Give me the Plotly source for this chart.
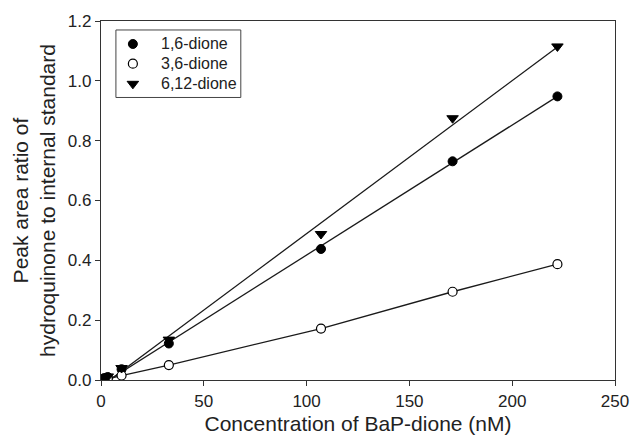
import plotly.graph_objects as go

# Data
conc = [0.5, 1.1, 2.2, 3.3, 10, 33, 107, 171, 222]
dione_16 = [0.002, 0.004, 0.007, 0.010, 0.036, 0.122, 0.438, 0.731, 0.948]
dione_36 = [0.001, 0.002, 0.003, 0.004, 0.015, 0.050, 0.172, 0.295, 0.387]
dione_612 = [0.002, 0.005, 0.008, 0.012, 0.040, 0.135, 0.488, 0.875, 1.115]
series_names = ["1,6-dione", "3,6-dione", "6,12-dione"]

# Regression lines (endpoints)
fit_x = [0, 222]
fit_16 = [-0.017, 0.948]
fit_612 = [-0.022, 1.113]

x_ticks = [0, 50, 100, 150, 200, 250]
y_ticks = [0.0, 0.2, 0.4, 0.6, 0.8, 1.0, 1.2]

LINE = "#1a1a1a"
FONT = "Liberation Sans, Arial, sans-serif"

styles = [
    dict(symbol="circle", size=9, color="black", line=dict(color="black", width=1)),
    dict(symbol="circle", size=9, color="white", line=dict(color="black", width=1.2)),
    dict(symbol="triangle-down", size=10, color="black", line=dict(color="black", width=1)),
]

fig = go.Figure()

# lines
fig.add_trace(go.Scatter(x=fit_x, y=fit_612, mode="lines",
                         line=dict(color=LINE, width=1.3), hoverinfo="skip"))
fig.add_trace(go.Scatter(x=fit_x, y=fit_16, mode="lines",
                         line=dict(color=LINE, width=1.3), hoverinfo="skip"))
fig.add_trace(go.Scatter(x=[0] + conc, y=[0] + dione_36, mode="lines",
                         line=dict(color=LINE, width=1.3), hoverinfo="skip"))

# markers
for name, ys, st in zip(series_names, [dione_16, dione_36, dione_612], styles):
    fig.add_trace(go.Scatter(x=conc, y=ys, mode="markers", name=name, marker=st))

# legend drawn in a hidden overlay frame (0..1 of plot area)
leg_box = dict(x0=0.029, x1=0.272, y0=0.787, y1=0.975)
leg_sym_x = 0.062
leg_txt_x = 0.113
leg_rows = [0.936, 0.881, 0.825]
for name, st, ry in zip(series_names, styles, leg_rows):
    fig.add_trace(go.Scatter(x=[leg_sym_x], y=[ry], mode="markers", marker=st,
                             xaxis="x2", yaxis="y2", hoverinfo="skip"))
    fig.add_annotation(x=leg_txt_x, y=ry, xref="x2", yref="y2", text=name,
                       showarrow=False, xanchor="left", yanchor="middle",
                       font=dict(size=16, family=FONT, color="#222"))
fig.add_shape(type="rect", xref="x2", yref="y2", **leg_box,
              line=dict(color="#444", width=1), fillcolor="rgba(0,0,0,0)")

axis_common = dict(
    showgrid=False, zeroline=False, showline=True, linecolor="#333", linewidth=1.3,
    mirror=True, ticks="outside", ticklen=5, tickcolor="#333", tickwidth=1.2,
    tickfont=dict(size=17, color="#222", family=FONT),
)

fig.update_xaxes(range=[0, 250], tickvals=x_ticks, ticktext=[str(v) for v in x_ticks],
                 title=dict(text="Concentration of BaP-dione (nM)",
                            font=dict(size=21, color="#222", family=FONT), standoff=6),
                 **axis_common)
fig.update_yaxes(range=[0, 1.2], tickvals=y_ticks, ticktext=[f"{v:.1f}" for v in y_ticks],
                 title=dict(text="Peak area ratio of<br>hydroquinone to internal standard",
                            font=dict(size=21, color="#222", family=FONT), standoff=6),
                 **axis_common)

fig.update_layout(
    width=641, height=443,
    margin=dict(l=101, r=21, t=19, b=63),
    paper_bgcolor="white", plot_bgcolor="white",
    font=dict(family=FONT, color="#222"),
    showlegend=False,
    xaxis2=dict(overlaying="x", range=[0, 1], visible=False),
    yaxis2=dict(overlaying="y", range=[0, 1], visible=False),
)

fig.write_html("out.html")
